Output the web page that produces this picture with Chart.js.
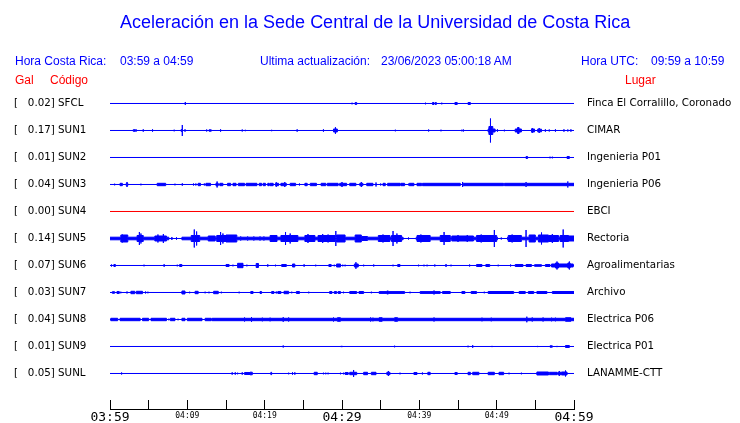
<!DOCTYPE html>
<html>
<head>
<meta charset="utf-8">
<script src="https://cdn.jsdelivr.net/npm/chart.js@4.4.1/dist/chart.umd.min.js"></script>
<style>
  body { margin: 0; background: #fff; }
  #wrap { position: relative; width: 740px; height: 423px; overflow: hidden; }
  #wrap canvas { position: absolute; left: 0; top: 0; }
  .t { position: absolute; white-space: pre; font-family: "Liberation Sans", Arial, sans-serif; color: #0000ff; }
  .h { font-size: 12px; line-height: 12px; }
  .red { color: #ff0000; }
</style>
</head>
<body>
<div id="wrap">
  <canvas id="sismo" width="740" height="423"></canvas>
  <div class="t" style="left:120px; top:13px; font-size:18px; line-height:18px;">Aceleración en la Sede Central de la Universidad de Costa Rica</div>
  <div class="t h" style="left:15px; top:55px;">Hora Costa Rica:</div>
  <div class="t h" style="left:120px; top:55px;">03:59 a 04:59</div>
  <div class="t h" style="left:260px; top:55px;">Ultima actualización:</div>
  <div class="t h" style="left:381px; top:55px;">23/06/2023 05:00:18 AM</div>
  <div class="t h" style="left:581px; top:55px;">Hora UTC:</div>
  <div class="t h" style="left:651px; top:55px;">09:59 a 10:59</div>
  <div class="t h red" style="left:15px; top:74px;">Gal</div>
  <div class="t h red" style="left:50px; top:74px;">Código</div>
  <div class="t h red" style="left:625px; top:74px;">Lugar</div>
</div>
<script>
// estaciones (de arriba hacia abajo)
const codigos = ['SFCL', 'SUN1', 'SUN2', 'SUN3', 'SUN4', 'SUN5', 'SUN6', 'SUN7', 'SUN8', 'SUN9', 'SUNL'];
const gal = [0.02, 0.17, 0.01, 0.04, 0.00, 0.14, 0.07, 0.03, 0.04, 0.01, 0.05];
const lugares = ['Finca El Corralillo, Coronado', 'CIMAR', 'Ingenieria P01', 'Ingenieria P06', 'EBCI',
  'Rectoria', 'Agroalimentarias', 'Archivo', 'Electrica P06', 'Electrica P01', 'LANAMME-CTT'];

// eje de tiempo: minutos desde las 03:59, marcas cada 5 min
const etiquetasTiempo = ['03:59', '', '04:09', '', '04:19', '', '04:29', '', '04:39', '', '04:49', '', '04:59'];

// eventos por estacion: [inicio (min), fin (min), amplitud relativa]; inicio == fin es un pico
const evSFCL = [[9.74,9.74,1.5],[31.3,31.3,0.8],[31.7,31.9,1],[40.8,40.8,0.8],[41.7,41.9,1],[42.05,42.2,1],
  [42.9,42.9,0.8],[44.6,44.9,1],[46.3,46.6,1]];
const evSUN1 = [[3.0,3.3,0.8],[3.4,3.4,1],[4.3,4.3,1.2],[5.5,5.5,1.2],[8.3,8.3,0.8],[9.2,9.3,1],[9.35,9.35,5.5],
  [9.7,9.7,1.2],[12.5,12.5,1],[12.8,13.1,0.7],[14.3,14.3,1.2],[17.1,17.1,1],[17.5,17.5,0.7],[20.9,20.9,0.7],
  [24.2,24.2,1.2],[27.6,27.6,1.2],[28.9,29.4,1.5],[29.15,29.15,3.3],[36.9,36.9,0.8],[41.2,41.2,1],[42.8,42.8,0.8],
  [45.5,45.5,0.8],[45.7,45.7,1],[48.9,49.8,1.5],[49.0,49.5,4],[49.2,49.2,12],[50.1,50.1,1.2],[51.0,51.0,0.8],
  [52.4,53.2,1.5],[52.7,52.9,3],[54.5,54.9,1.5],[54.6,54.6,2.5],[55.3,55.8,1.3],[55.5,55.5,2.5],[56.3,56.3,1.2],
  [56.8,56.8,1],[57.6,57.6,1.2],[58.7,58.7,1.2],[59.2,59.2,1],[59.6,59.6,1.2]];
const evSUN2 = [[53.8,54.0,1],[56.9,56.9,0.8],[57.2,57.2,0.8],[59.1,59.4,1]];
const evSUN3 = [[0.6,0.6,0.8],[1.3,1.6,1.2],[2.1,2.3,1.2],[2.2,2.2,2.5],[4.0,4.0,0.8],[6.1,7.2,1.2],[8.4,8.4,0.8],
  [9.35,9.35,1.2],[10.8,10.8,1],[11.1,11.1,1],[11.4,11.7,1.2],[12.2,12.2,1],[12.4,13.0,1.2],[13.7,14.0,1.2],
  [13.85,13.85,3],[14.2,14.6,1.2],[15.2,15.6,1.2],[15.9,16.3,1.2],[16.6,17.4,1.2],[17.6,19.0,1.2],[19.3,19.6,1.2],
  [19.8,20.1,1.2],[20.4,20.6,1.2],[20.7,21.1,1.2],[21.4,21.8,1.2],[21.5,21.5,2.3],[22.1,22.8,1.2],[22.6,22.6,2.5],
  [23.3,24.0,1.2],[24.5,24.5,1],[25.2,25.5,1.2],[25.9,26.7,1.2],[27.3,27.9,1.2],[28.1,29.5,1.2],[29.7,30.6,1.2],
  [30.0,30.0,2.5],[31.0,31.8,1.2],[32.3,32.7,1.2],[32.5,32.5,2.5],[33.2,34.0,1.2],[34.4,34.4,2],[35.0,35.0,1],
  [35.3,35.6,1.2],[35.9,37.5,1.2],[37.6,38.1,1.2],[38.6,38.6,0.8],[38.7,39.3,1.2],[39.7,40.3,1.2],[40.4,45.3,1.2],
  [45.6,45.6,2.5],[45.7,50.9,1.2],[51.0,53.7,1.2],[53.8,53.8,2.5],[53.9,59.1,1.2],[59.2,59.2,3],[59.3,60,1.2]];
const evSUN4 = [];
const evSUN5 = [[0,7.6,1.3],[9.3,37.9,1.3],[39.6,50.1,1.3],[51.4,60,1.3],[8.0,8.0,1.5],[8.6,8.6,1.2],[38.6,38.6,1],
  [50.6,50.6,1],[1.4,2.3,3.5],[1.6,1.6,4],[3.5,4.3,3],[3.8,3.8,6.5],[4.0,4.0,5],[5.8,7.3,2.5],[6.2,6.2,4],
  [6.9,6.9,4.5],[10.5,11.6,3],[10.9,10.9,9],[11.2,11.2,7],[12.7,13.6,2.5],[13.8,15.0,3],[14.3,14.3,6.5],
  [14.6,14.6,5],[15.0,16.4,3.5],[16.9,16.9,2],[17.8,17.8,2],[18.6,18.6,2],[19.4,19.4,2],[19.9,19.9,2],
  [20.7,21.6,3],[22.1,24.3,3],[22.7,22.7,6.5],[23.3,23.3,5],[25.2,26.5,3],[25.6,25.6,4.5],[26.9,29.1,3],
  [27.5,27.5,4.5],[28.2,28.2,4],[29.2,29.2,7.5],[29.3,30.4,3.5],[31.7,32.5,3.5],[32.5,33.3,2],[34.7,36.2,3],
  [35.3,35.3,4],[36.4,37.7,3],[36.6,36.6,7.5],[37.1,37.1,5],[39.7,41.4,3],[40.2,40.2,4],[42.7,44.0,3],
  [43.2,43.2,6.5],[44.2,47.0,2.5],[45.0,45.0,3.5],[46.2,46.2,3.5],[47.4,50.0,3],[48.0,48.0,4],[49.7,49.7,8.5],
  [51.5,53.2,3],[52.0,52.0,4],[53.8,53.8,8.5],[54.2,55.0,3.5],[55.4,56.7,3.5],[55.8,55.8,6],[56.7,58.0,3],
  [57.2,57.2,4.5],[58.2,59.3,3],[58.6,58.6,9],[59.3,60,2.5]];
const evSUN6 = [[0.2,0.2,1],[0.5,0.7,1],[4.4,4.4,0.8],[7.0,7.0,1.3],[8.7,8.7,0.8],[9.0,9.3,1],[15.0,15.4,1],
  [15.9,15.9,0.8],[16.5,17.2,2.2],[17.7,17.7,0.8],[18.9,19.2,2],[20.4,20.4,1.2],[21.4,21.4,0.8],[22.2,22.8,1],
  [23.6,23.9,1.5],[25.1,25.1,1.2],[26.6,26.6,0.8],[28.3,28.6,1],[29.0,29.0,0.8],[29.3,29.8,1.5],[30.1,30.1,0.8],
  [30.4,30.4,0.8],[31.6,32.1,1.5],[31.8,31.8,3.3],[32.8,32.8,0.8],[34.1,34.1,1],[36.6,36.6,0.8],[37.2,37.5,1],
  [39.9,39.9,0.8],[40.6,40.6,0.8],[41.0,41.0,0.8],[42.0,42.0,1],[43.4,43.5,1],[44.1,44.1,0.8],[46.5,46.5,1],
  [47.4,48.1,1],[48.6,49.1,1],[50.2,50.2,0.8],[51.8,51.8,1],[52.4,53.4,1],[53.8,54.5,1],[54.9,55.8,0.8],
  [56.3,56.9,1],[57.1,59.9,1.5],[57.6,58.0,2.5],[57.8,57.8,4],[59.2,59.5,2.5],[59.4,59.4,4]];
const evSUN7 = [[0.3,0.6,0.8],[0.9,1.2,1],[1.4,1.4,0.8],[2.2,2.2,1],[2.7,3.2,1.2],[3.4,4.2,1.2],[4.6,4.6,1],
  [4.9,4.9,0.8],[9.3,9.7,1.5],[10.3,10.3,0.8],[11.0,11.4,1.2],[12.3,12.3,0.8],[12.8,12.8,0.8],[13.4,14.0,1.2],
  [14.4,14.4,0.8],[16.7,16.7,0.8],[18.2,18.5,1],[19.4,19.6,1],[20.9,21.2,1],[21.5,21.5,1],[21.7,22.1,1],
  [22.5,23.1,1.2],[23.5,23.5,0.8],[24.1,24.5,1],[25.7,25.7,0.8],[28.4,28.7,1],[29.0,29.3,1],[29.5,29.8,1],
  [30.2,30.2,0.8],[31.0,31.9,1],[32.2,32.8,1],[33.8,33.8,0.8],[34.8,38.1,0.9],[35.8,36.0,1.5],[38.8,38.8,0.8],
  [40.1,42.7,0.9],[41.9,41.9,2],[43.0,44.0,1],[45.5,45.9,1],[46.7,47.4,1],[47.1,47.1,1.5],[48.4,48.4,0.8],
  [48.9,52.2,1],[52.9,53.7,1],[54.1,54.8,1],[55.2,56.5,1],[57.2,60,1]];
const evSUN8 = [[0.1,1.0,1.2],[1.3,3.9,1.2],[4.2,5.0,1.2],[5.3,7.3,1.2],[7.6,7.6,0.8],[7.8,8.4,1.2],[8.8,8.8,0.8],
  [9.3,9.7,1.2],[10.0,11.9,1.2],[12.3,13.1,1.2],[13.2,60,1.2],[17.4,17.4,2],[18.3,18.3,2.3],[19.7,19.7,1.8],
  [20.7,20.7,1.8],[22.4,22.4,2.3],[23.1,23.1,2],[28.9,28.9,2],[29.4,29.8,1.8],[33.7,33.7,2],[34.0,34.0,1.8],
  [34.8,35.2,1.8],[36.8,37.2,1.8],[41.9,41.9,2],[48.1,48.1,1.8],[49.3,49.3,1.8],[53.9,53.9,2.8],[54.6,54.6,2],
  [56.0,56.0,2],[57.1,57.1,1.8],[57.6,57.6,1.8],[58.9,59.6,1.8]];
const evSUN9 = [[22.4,22.4,1],[29.9,29.9,0.6],[30.0,30.0,0.6],[36.8,36.8,0.8],[46.3,46.3,0.8],[46.9,46.9,1.3],
  [49.4,49.4,0.6],[55.3,55.3,0.6],[56.9,57.2,0.7],[57.8,57.8,0.6],[58.9,59.4,1]];
const evSUNL = [[1.5,1.5,1],[15.8,15.8,1.2],[16.2,16.2,1.2],[16.5,16.5,0.8],[17.1,17.1,1.2],[17.4,18.1,1],
  [18.1,18.4,1.3],[20.8,20.9,1.2],[23.1,23.1,0.8],[23.6,23.6,1.2],[23.9,23.9,1.2],[26.4,26.8,1.2],[27.6,27.6,0.8],
  [27.9,27.9,0.8],[28.2,28.2,0.8],[29.8,29.8,0.8],[30.2,30.2,0.8],[30.4,30.8,1],[31.0,31.9,1.2],[31.5,31.5,3.5],
  [32.8,33.3,1.2],[33.8,34.4,1.2],[35.8,36.2,1.2],[36.0,36.0,2.5],[37.5,37.5,0.8],[39.3,39.7,1],[40.4,40.4,1],
  [41.1,41.4,1.2],[44.6,44.9,1],[46.3,46.6,1.2],[46.9,47.7,1.2],[48.9,49.7,1.2],[50.3,50.9,1.2],[51.6,51.6,0.8],
  [53.2,53.2,0.8],[55.2,56.7,1.5],[56.8,57.8,1.2],[57.9,58.4,1.2],[58.1,58.1,2.5],[58.4,59.1,1.5],[58.9,58.9,3]];

const eventos = [evSFCL, evSUN1, evSUN2, evSUN3, evSUN4, evSUN5, evSUN6, evSUN7, evSUN8, evSUN9, evSUNL];

const AMP_POR_FILA = 27; // unidades de amplitud por separacion entre trazas
const DURACION = 60;

// envolvente escalonada a partir de los eventos
function envolvente(evs) {
  const bordes = [0, DURACION];
  evs.forEach(e => bordes.push(e[0], e[1]));
  const xs = [...new Set(bordes)].sort((a, b) => a - b);
  const pts = [];
  xs.forEach((x, i) => {
    const sig = xs[i + 1];
    const pico = Math.max(0, ...evs.filter(e => e[0] === x && e[1] === x).map(e => e[2]));
    const nivel = sig === undefined ? 0 :
      Math.max(0, ...evs.filter(e => e[1] > e[0] && e[0] <= x && e[1] >= sig).map(e => e[2]));
    if (pico > nivel) pts.push({ x, a: pico });
    pts.push({ x, a: nivel });
  });
  return pts;
}

const datasets = [];
eventos.forEach((evs, fila) => {
  const color = evs.length ? '#0000ff' : '#ff0000';
  const env = envolvente(evs);
  const base = { borderColor: color, backgroundColor: color, borderWidth: 1, pointRadius: 0,
    stepped: true, tension: 0 };
  datasets.push(Object.assign({}, base, { data: env.map(p => ({ x: p.x, y: fila - p.a / AMP_POR_FILA })), fill: '+1' }));
  datasets.push(Object.assign({}, base, { data: env.map(p => ({ x: p.x, y: fila + p.a / AMP_POR_FILA })), fill: false }));
});

const etiquetaIzq = i => '[' + gal[i].toFixed(2).padStart(7, ' ') + '] ' + codigos[i];
const filas = codigos.map((c, i) => ({ value: i }));
const yMin = -0.5, yMax = 11.315;

new Chart(document.getElementById('sismo'), {
  type: 'line',
  data: { datasets },
  options: {
    responsive: false,
    animation: false,
    devicePixelRatio: 1,
    layout: { padding: { top: 90, left: 14, right: 0, bottom: 0 } },
    plugins: { legend: { display: false }, tooltip: { enabled: false }, title: { display: false } },
    scales: {
      x: {
        type: 'linear', min: 0, max: DURACION, position: 'bottom',
        grid: { drawOnChartArea: false, drawTicks: true, tickLength: -9, color: '#000', lineWidth: 1 },
        border: { display: true, color: '#000', width: 1 },
        ticks: {
          stepSize: 5, autoSkip: false, maxRotation: 0, color: '#000', padding: 9.5,
          callback: (v) => etiquetasTiempo[Math.round(v / 5)] || '',
          font: (ctx) => (ctx.tick && ctx.tick.value % 30 === 0)
            ? { family: 'DejaVu Sans Mono', size: 13, lineHeight: 1.2 }
            : { family: 'DejaVu Sans Mono', size: 8, lineHeight: 1.7 }
        },
        afterFit: (s) => { s.height = 14; }
      },
      y: {
        type: 'linear', min: yMin, max: yMax, reverse: true, position: 'left',
        grid: { display: false, drawTicks: false },
        border: { display: false },
        afterBuildTicks: (s) => { s.ticks = filas.map(t => ({ value: t.value })); },
        ticks: { autoSkip: false, crossAlign: 'far', padding: 0, color: '#000',
          font: { family: 'DejaVu Sans', size: 10.3 }, callback: (v) => etiquetaIzq(v) },
        afterFit: (s) => { s.width = 96; }
      },
      y2: {
        type: 'linear', min: yMin, max: yMax, reverse: true, position: 'right',
        // marcas invisibles de 13 px para separar el texto de las trazas
        grid: { display: false, drawTicks: true, tickLength: 13 },
        border: { display: false },
        afterBuildTicks: (s) => { s.ticks = filas.map(t => ({ value: t.value })); },
        ticks: { autoSkip: false, padding: 0, color: '#000',
          font: { family: 'DejaVu Sans', size: 10.3 }, callback: (v) => lugares[v] },
        afterFit: (s) => { s.width = 166; }
      }
    }
  }
});
</script>
</body>
</html>
